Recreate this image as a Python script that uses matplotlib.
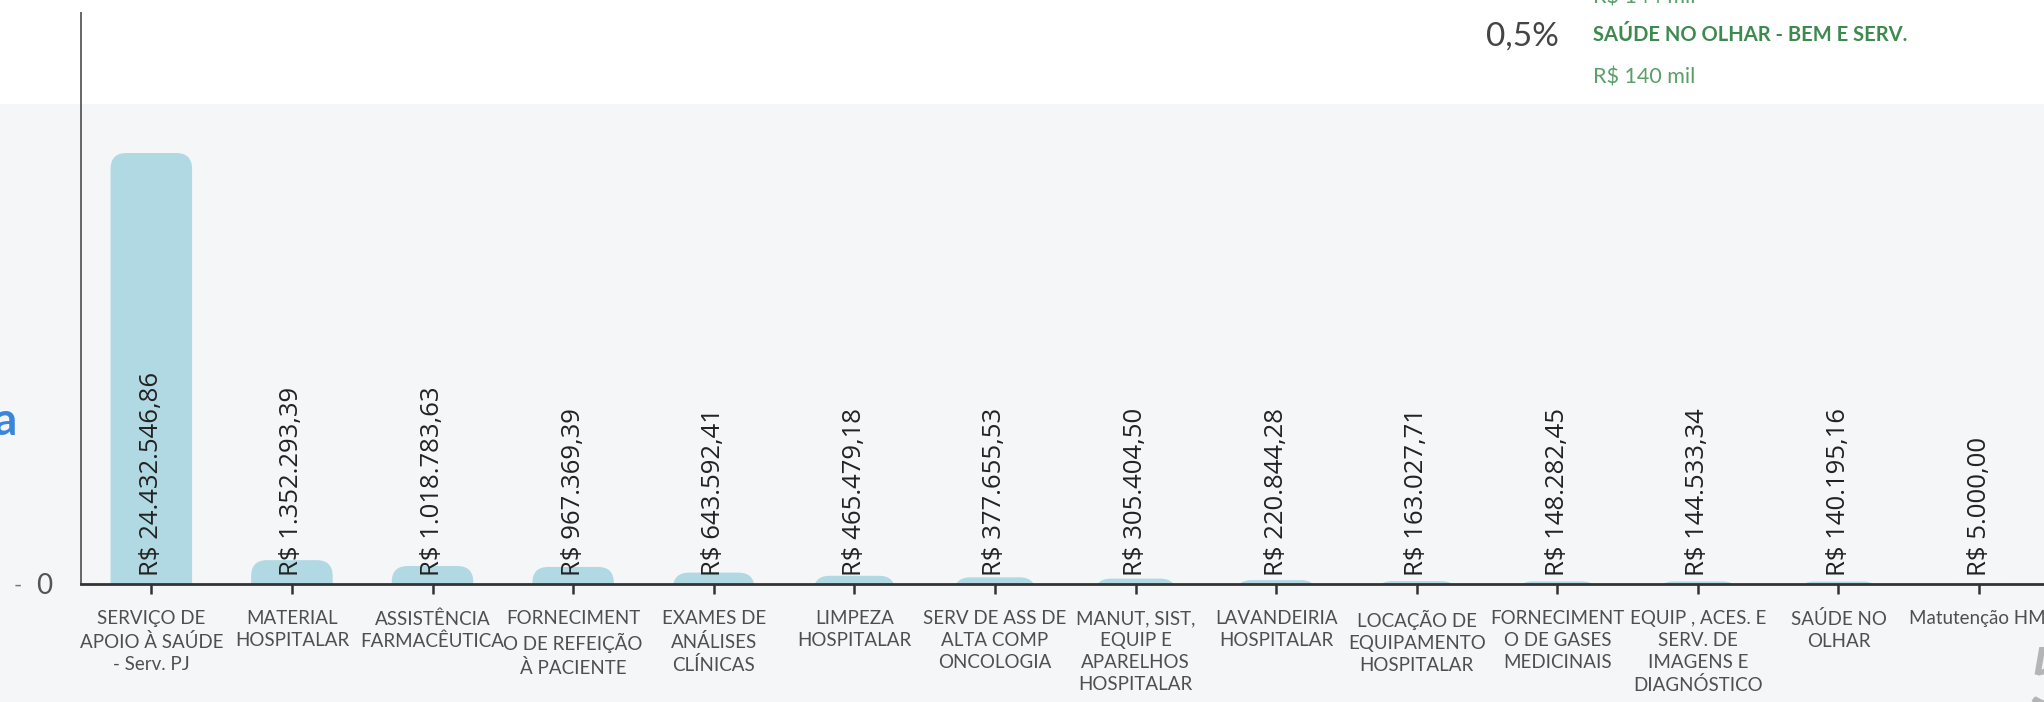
import matplotlib.pyplot as plt
from matplotlib.patches import FancyBboxPatch, Rectangle

categorias = [
    "SERVIÇO DE\nAPOIO À SAÚDE\n- Serv. PJ",
    "MATERIAL\nHOSPITALAR",
    "ASSISTÊNCIA\nFARMACÊUTICA",
    "FORNECIMENT\nO DE REFEIÇÃO\nÀ PACIENTE",
    "EXAMES DE\nANÁLISES\nCLÍNICAS",
    "LIMPEZA\nHOSPITALAR",
    "SERV DE ASS DE\nALTA COMP\nONCOLOGIA",
    "MANUT, SIST,\nEQUIP E\nAPARELHOS\nHOSPITALAR",
    "LAVANDEIRIA\nHOSPITALAR",
    "LOCAÇÃO DE\nEQUIPAMENTO\nHOSPITALAR",
    "FORNECIMENT\nO DE GASES\nMEDICINAIS",
    "EQUIP , ACES. E\nSERV. DE\nIMAGENS E\nDIAGNÓSTICO",
    "SAÚDE NO\nOLHAR",
    "Matutenção HM.",
]
valores = [24432546.86, 1352293.39, 1018783.63, 967369.39, 643592.41,
           465479.18, 377655.53, 305404.50, 220844.28, 163027.71,
           148282.45, 144533.34, 140195.16, 5000.00]
rotulos = ["R$ 24.432.546,86", "R$ 1.352.293,39", "R$ 1.018.783,63",
           "R$ 967.369,39", "R$ 643.592,41", "R$ 465.479,18", "R$ 377.655,53",
           "R$ 305.404,50", "R$ 220.844,28", "R$ 163.027,71", "R$ 148.282,45",
           "R$ 144.533,34", "R$ 140.195,16", "R$ 5.000,00"]

W, H = 2044, 702
fig = plt.figure(figsize=(W / 100, H / 100), dpi=100)
fig.patch.set_facecolor("white")

def fx(px):
    return px / W

def fy(py):
    return 1 - py / H

# fundo cinza da secao
fig.patches.append(Rectangle((0, 0), 1, fy(104), transform=fig.transFigure,
                             facecolor="#f5f6f8", edgecolor="none", zorder=-5))

ax = fig.add_axes([fx(81), fy(584), fx(14 * 140.6), (584 - 13) / H])
ax.set_facecolor("none")
ax.set_zorder(1)

x = list(range(len(valores)))
ymax = valores[0] * 571 / 431
ax.set_xlim(-0.5, 13.5)
ax.set_ylim(0, ymax)

barras = ax.bar(x, valores, width=0.58, color="none")
# cantos arredondados no topo
r_px = 16
rx = r_px / 140.6
ry = r_px * ymax / 571
for b in barras:
    x0 = b.get_x()
    w = b.get_width()
    h = b.get_height()
    p = FancyBboxPatch((x0, -2 * ry), w, h + 2 * ry,
                       boxstyle=f"round,pad=0,rounding_size={rx}",
                       mutation_aspect=ry / rx,
                       facecolor="#b1d9e3", edgecolor="none", zorder=2)
    ax.add_patch(p)
    b.remove()

for xi, txt in zip(x, rotulos):
    ax.annotate(txt, (xi, 0), xytext=(0, 6), textcoords="offset points",
                rotation=90, ha="center", va="bottom", fontsize=18.5,
                family="Open Sans", color="#222222", zorder=3)

for s in ["top", "right"]:
    ax.spines[s].set_visible(False)
ax.spines["left"].set_color("#666666")
ax.spines["left"].set_linewidth(1.4)
ax.spines["bottom"].set_color("#333333")
ax.spines["bottom"].set_linewidth(2)
ax.spines["bottom"].set_zorder(4)

ax.set_yticks([])
ax.set_xticks(x)
ax.set_xticklabels(categorias, family="Lato", fontsize=13.5, color="#4f4f4f",
                   linespacing=1.35)
ax.tick_params(axis="x", length=7, width=1.8, color="#333333", pad=12)

# rotulo do zero
fig.text(fx(14), fy(586), "-", fontsize=16, color="#777777", va="center",
         family="Lato")
fig.text(fx(36), fy(586), "0", fontsize=20, color="#555555", va="center",
         family="Lato")

# texto azul cortado a esquerda
fig.text(fx(17), fy(422), "a", fontsize=33, color="#3b86d8", weight="bold",
         ha="right", va="center", family="Lato")

# bloco superior direito
fig.text(fx(1593), fy(-3), "R$ 144 mil", fontsize=15.5, color="#5a9e68",
         va="center", family="Lato")
fig.text(fx(1486), fy(37), "0,5%", fontsize=24, color="#444444",
         va="center", family="Lato")
fig.text(fx(1593), fy(35), "SAÚDE NO OLHAR - BEM E SERV.", fontsize=14.5,
         color="#3d8a4f", va="center", family="Lato", weight="bold")
fig.text(fx(1593), fy(77), "R$ 140 mil", fontsize=15.5, color="#5a9e68",
         va="center", family="Lato")

# numero grande cortado no canto
fig.text(fx(2026), fy(645), "5", fontsize=58, color="#b5b5b5", va="top",
         family="Lato")

fig.savefig("out.png", dpi=100)
